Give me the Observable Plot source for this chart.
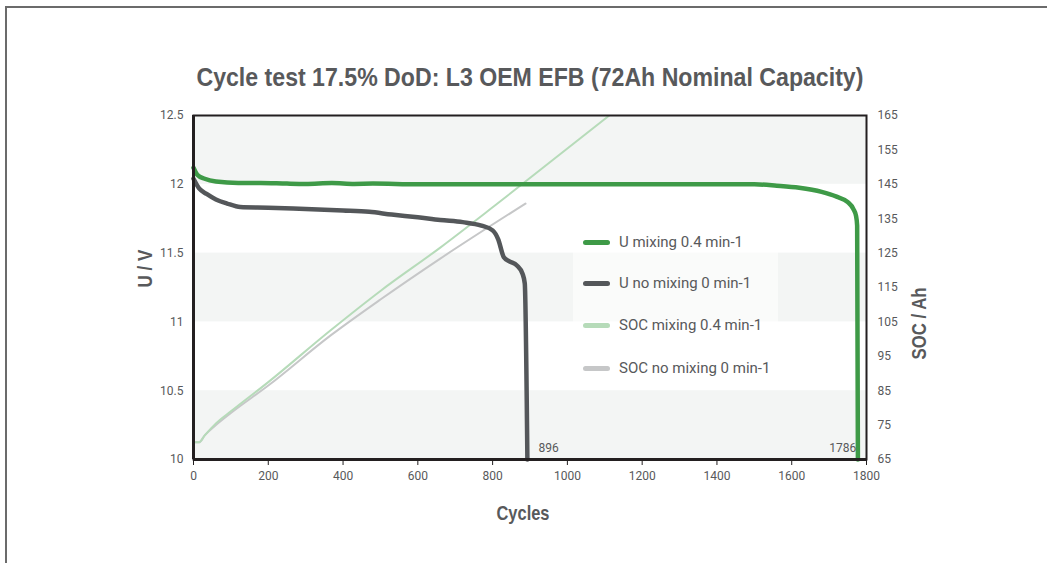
<!DOCTYPE html>
<html>
<head>
<meta charset="utf-8">
<script src="https://cdn.jsdelivr.net/npm/d3@7"></script>
<script src="https://cdn.jsdelivr.net/npm/@observablehq/plot@0.6"></script>
<style>
  html, body { margin: 0; padding: 0; background: #fff; overflow: hidden; }
  #wrap { position: relative; width: 1047px; height: 563px; overflow: hidden; }
  #outer { position: absolute; left: 5px; top: 6px; width: 1100px; height: 600px;
           border-top: 2px solid #6b6b6b; border-left: 2px solid #6b6b6b; }
  #title { position: absolute; left: 0; width: 1059px; top: 62px; text-align: center; white-space: nowrap; }
  #title span { display: inline-block; font: bold 26px "Liberation Sans", Arial, sans-serif; color: #58595b;
                transform-origin: center center; }
  #chart { position: absolute; left: 0; top: 0; }
  #legend { position: absolute; left: 573px; top: 222px; width: 205px; height: 166px;
            background: rgba(255,255,255,0.55); }
  .item { position: absolute; left: 10px; height: 20px; display: flex; align-items: center;
          font: 15px Roboto, sans-serif; color: #58595b; white-space: nowrap; }
  .sw { width: 27px; height: 5px; border-radius: 3px; margin-right: 9px; }
</style>
</head>
<body>
<div id="wrap">
  <div id="outer"></div>
  <div id="chart"></div>
  <div id="title"><span></span></div>
  <div id="legend"></div>
</div>
<script>
// ---- data ----
const titleText = "Cycle test 17.5% DoD: L3 OEM EFB (72Ah Nominal Capacity)";

const uMixCycles = [0, 10, 30, 60, 120, 180, 250, 300, 370, 430, 480, 600, 800, 1000, 1200, 1400, 1500, 1560, 1620, 1680, 1720, 1750, 1765, 1772, 1775, 1777];
const uMixV      = [12.12, 12.07, 12.04, 12.02, 12.01, 12.01, 12.005, 12.003, 12.01, 12.003, 12.005, 12.0, 12.0, 12.0, 12.0, 12.0, 12.0, 11.99, 11.975, 11.945, 11.91, 11.87, 11.82, 11.77, 11.70, 10.0];

const uNoMixCycles = [0, 15, 35, 60, 90, 125, 200, 300, 400, 470, 530, 600, 660, 720, 770, 800, 815, 830, 845, 865, 880, 886, 893];
const uNoMixV      = [12.04, 11.97, 11.93, 11.89, 11.86, 11.835, 11.83, 11.82, 11.81, 11.80, 11.78, 11.76, 11.74, 11.725, 11.70, 11.665, 11.60, 11.47, 11.44, 11.41, 11.35, 11.28, 10.0];

const socMixCycles = [0, 15, 30, 60, 100, 200, 366, 500, 660, 813, 1112];
const socMixAh     = [70, 70, 72, 75.5, 79, 87.5, 102.5, 114, 126.6, 139.4, 165];

const socNoMixCycles = [0, 15, 30, 60, 100, 200, 366, 500, 660, 888];
const socNoMixAh     = [70, 70, 72, 75, 78.5, 86.5, 101, 111.5, 123.4, 139.4];

const xTicks = [0, 200, 400, 600, 800, 1000, 1200, 1400, 1600, 1800];
const uTicks = [10, 10.5, 11, 11.5, 12, 12.5];
const socTicks = [65, 75, 85, 95, 105, 115, 125, 135, 145, 155, 165];
const bands = [[10, 10.5], [11, 11.5], [12, 12.5]];

const annotations = [{cycle: 896, label: "896"}, {cycle: 1786, label: "1786"}];

const seriesNames = ["U mixing 0.4 min-1", "U no mixing 0 min-1", "SOC mixing 0.4 min-1", "SOC no mixing 0 min-1"];
const seriesColors = ["#3e9a47", "#54575a", "#b6dbb9", "#c6c7c8"];

const axisTitles = ["U / V", "SOC / Ah", "Cycles"];

// ---- build ----
const socMin = 65, socMax = 165, uMin = 10, uMax = 12.5;
const toV = ah => uMin + (ah - socMin) * (uMax - uMin) / (socMax - socMin);
const toAh = v => socMin + (v - uMin) * (socMax - socMin) / (uMax - uMin);

const zip = (xs, ys) => xs.map((x, i) => ({x, y: ys[i]}));
const uMix = zip(uMixCycles, uMixV);
const uNoMix = zip(uNoMixCycles, uNoMixV);
const socMix = zip(socMixCycles, socMixAh);
const socNoMix = zip(socNoMixCycles, socNoMixAh);

const textColor = "#58595b";
const axisColor = "#231f20";
const boldFont = '"Liberation Sans", Arial, sans-serif';
// condensed look: target widths for the bold titles
const condensed = {"U / V": 38, "SOC / Ah": 72, "Cycles": 53};

const chart = Plot.plot({
  width: 1047,
  height: 563,
  marginLeft: 193,
  marginRight: 181,
  marginTop: 115,
  marginBottom: 104,
  style: {fontFamily: "Roboto, sans-serif", fontSize: "12px", color: textColor, background: "transparent"},
  x: {domain: [0, 1800]},
  y: {domain: [uMin, uMax]},
  marks: [
    Plot.rect(bands, {y1: d => d[0], y2: d => d[1], fill: "#f3f5f4"}),
    Plot.line(socNoMix, {x: "x", y: d => toV(d.y), stroke: seriesColors[3], strokeWidth: 2, curve: "monotone-x", clip: true}),
    Plot.line(socMix, {x: "x", y: d => toV(d.y), stroke: seriesColors[2], strokeWidth: 2, curve: "monotone-x", clip: true}),
    Plot.line(uNoMix, {x: "x", y: "y", stroke: seriesColors[1], strokeWidth: 4.5, curve: "monotone-x", strokeLinejoin: "round"}),
    Plot.line(uMix, {x: "x", y: "y", stroke: seriesColors[0], strokeWidth: 4.5, curve: "monotone-x", strokeLinejoin: "round"}),
    Plot.text([annotations[0]], {x: "cycle", text: "label", frameAnchor: "bottom", dx: 10, dy: -8, textAnchor: "start", fill: textColor, fontSize: 12}),
    Plot.text([annotations[1]], {x: "cycle", text: "label", frameAnchor: "bottom", dx: -5, dy: -8, textAnchor: "end", fill: textColor, fontSize: 12}),
    Plot.axisY(uTicks, {anchor: "left", tickSize: 0, tickPadding: 10, tickFormat: d => String(d), label: null, fill: textColor}),
    Plot.axisY(socTicks.map(toV), {anchor: "right", tickSize: 0, tickPadding: 11, tickFormat: v => String(Math.round(toAh(v))), label: null, fill: textColor}),
    Plot.axisX(xTicks, {anchor: "bottom", tickSize: 6, tickPadding: 6, tickFormat: d => String(d), label: null, stroke: axisColor, fill: textColor}),
    Plot.frame({stroke: axisColor, strokeWidth: 2}),
    Plot.ruleX([0], {stroke: axisColor, strokeWidth: 3}),
    Plot.ruleY([uMin], {stroke: axisColor, strokeWidth: 3}),
    Plot.text([axisTitles[0]], {frameAnchor: "left", dx: -48, rotate: -90, fontSize: 21, fontWeight: "bold", fontFamily: boldFont, fill: textColor}),
    Plot.text([axisTitles[1]], {frameAnchor: "right", dx: 53, rotate: -90, fontSize: 21, fontWeight: "bold", fontFamily: boldFont, fill: textColor}),
    Plot.text([axisTitles[2]], {frameAnchor: "bottom", dx: -7, dy: 60, fontSize: 21, fontWeight: "bold", fontFamily: boldFont, fill: textColor})
  ]
});
document.getElementById("chart").appendChild(chart);

// condense the bold axis titles
d3.select(chart).selectAll("text").each(function() {
  const t = this.textContent;
  if (condensed[t]) {
    this.setAttribute("textLength", condensed[t]);
    this.setAttribute("lengthAdjust", "spacingAndGlyphs");
  }
});

// title, condensed to the reference width
const titleSpan = document.querySelector("#title span");
titleSpan.textContent = titleText;
const natural = titleSpan.getBoundingClientRect().width;
titleSpan.style.transform = `scaleX(${667 / natural})`;

const legend = document.getElementById("legend");
const rowTops = [10, 51, 93, 136];
seriesNames.forEach((name, i) => {
  const item = document.createElement("div");
  item.className = "item";
  item.style.top = rowTops[i] + "px";
  const sw = document.createElement("div");
  sw.className = "sw";
  sw.style.background = seriesColors[i];
  const label = document.createElement("span");
  label.textContent = name;
  item.appendChild(sw);
  item.appendChild(label);
  legend.appendChild(item);
});
</script>
</body>
</html>
